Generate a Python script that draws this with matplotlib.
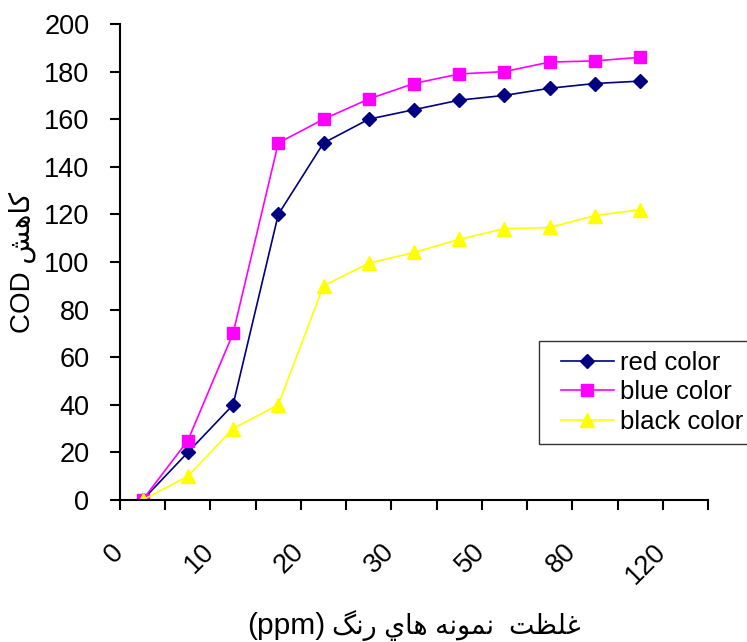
import matplotlib.pyplot as plt
from matplotlib.ticker import FixedLocator, NullFormatter
from matplotlib.lines import Line2D
from matplotlib.legend_handler import HandlerLine2D
import matplotlib.transforms as mtransforms

# category axis: 13 slots, every other one labelled in the original
conc_labels = ['0', '5', '10', '15', '20', '25', '30', '40', '50', '60', '80', '100', '120']

red_color = [0, 20, 40, 120, 150, 160, 164, 168, 170, 173, 175, 176]
blue_color = [0, 25, 70, 150, 160, 168.5, 175, 179, 180, 184, 184.5, 186]
black_color = [0, 10, 30, 40, 90, 99.5, 104, 109.5, 114, 114.5, 119.5, 122]

series_names = ['red color', 'blue color', 'black color']

# Persian text written in visual (left-to-right) order with presentation forms,
# since matplotlib does no shaping / bidi
ylabel = 'COD \uFEB6\uFEEB\uFE8E\uFB90'
xlabel_unit = '(ppm)'
xlabel_fa = ('\uFB93\uFEE7\uFEAD' + ' ' + '\uFEF1\uFE8E\uFEEB' + ' '
             + '\uFEEA\uFEE7\uFEEE\uFEE4\uFEE7' + '  ' + '\uFE96\uFEC8\uFEE0\uFECF')

plt.rcParams['font.family'] = ['Liberation Sans', 'DejaVu Sans']

fig = plt.figure(figsize=(7.47, 6.42), dpi=100)
ax = fig.add_axes([120 / 747, 142 / 642, 588 / 747, 476 / 642])

x = list(range(len(red_color)))
ax.plot(x, red_color, color='#000080', marker='D', markersize=7.5, lw=1.2, label=series_names[0])
ax.plot(x, blue_color, color='#FF00FF', marker='s', markersize=9, lw=1.2, label=series_names[1])
ax.plot(x, black_color, color='#FFFF00', marker='^', markersize=10, lw=1.2, label=series_names[2])

ax.set_xlim(-0.5, len(conc_labels) - 0.5)
ax.set_ylim(0, 200)
ax.set_yticks(range(0, 201, 20))

# tick marks on category boundaries, labels on every other category
ax.xaxis.set_major_locator(FixedLocator([i - 0.5 for i in range(len(conc_labels) + 1)]))
ax.xaxis.set_major_formatter(NullFormatter())
label_pos = list(range(0, len(conc_labels), 2))
ax.xaxis.set_minor_locator(FixedLocator(label_pos))
ax.set_xticklabels([conc_labels[i] for i in label_pos], minor=True,
                   rotation=45, ha='right', va='top', rotation_mode='default')
ax.tick_params(axis='x', which='minor', length=0, pad=28, labelsize=19.5)
ax.tick_params(axis='x', which='major', length=7, width=1.5, direction='out')
ax.tick_params(axis='y', length=7, width=1.5, direction='out', labelsize=19.5, pad=15)
offset = mtransforms.ScaledTranslation(-0.14, 0, fig.dpi_scale_trans)
for lab in ax.xaxis.get_minorticklabels():
    lab.set_transform(lab.get_transform() + offset)

for side in ['top', 'right']:
    ax.spines[side].set_visible(False)
for side in ['left', 'bottom']:
    ax.spines[side].set_linewidth(1.5)

ax.set_ylabel(ylabel, fontsize=20)
ax.yaxis.set_label_coords(-84 / 588, 0.5)

# x title: unit part and Persian part side by side
fig.text(325 / 747, 8 / 642, xlabel_unit, fontsize=21.5, ha='right', va='baseline')
fig.text(332 / 747, 8 / 642, xlabel_fa, fontsize=19.4, ha='left', va='baseline')

leg = ax.legend(loc='upper left', bbox_to_anchor=(539 / 747, 301 / 642), bbox_transform=fig.transFigure,
                fontsize=18.5, frameon=True, fancybox=False, edgecolor='black',
                handlelength=2.5, handletextpad=0.25, labelspacing=0.2, borderpad=0.4,
                borderaxespad=0, handler_map={Line2D: HandlerLine2D(xpad=0.45)})
leg.get_frame().set_linewidth(1.0)

fig.savefig('out.png', dpi=100)
